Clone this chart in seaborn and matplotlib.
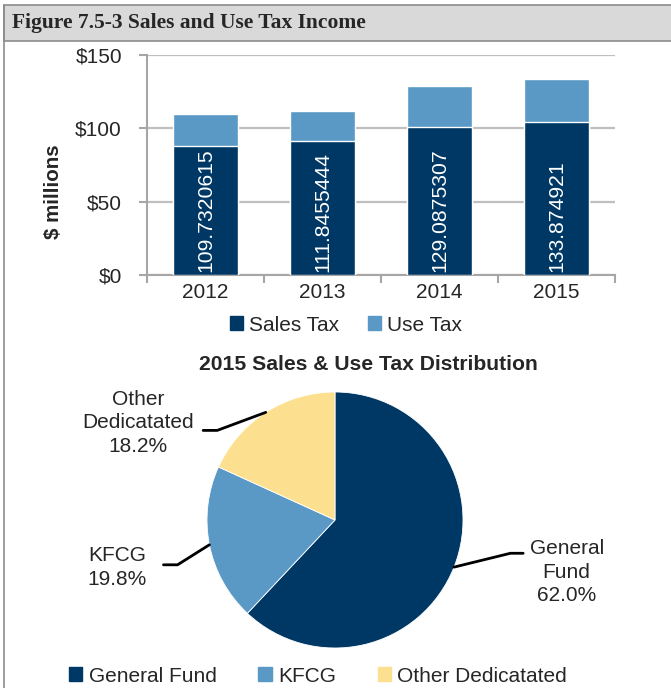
import numpy as np
import pandas as pd
import matplotlib
matplotlib.use("Agg")
import matplotlib.pyplot as plt
from matplotlib.patches import Rectangle, Patch
from matplotlib.lines import Line2D
import seaborn as sns

# ---- data ----
years = ["2012", "2013", "2014", "2015"]
sales_tax = [88.0, 91.7, 101.0, 104.6]
total_tax = [109.7320615, 111.8455444, 129.0875307, 133.874921]
total_labels = ["109.7320615", "111.8455444", "129.0875307", "133.874921"]
y_ticks = [0, 50, 100, 150]
y_tick_labels = ["$0", "$50", "$100", "$150"]

pie_labels = ["General Fund", "KFCG", "Other Dedicatated"]
pie_text = ["General\nFund", "KFCG", "Other\nDedicatated"]
pie_shares = [62.0, 19.8, 18.2]

NAVY = "#003865"
BLUE = "#5a98c5"
YELLOW = "#fde08f"
GRID = "#bfbfbf"
FS = 15

sns.set_theme(style="white")
plt.rcParams["font.family"] = ["Liberation Sans", "DejaVu Sans"]

W, H = 671, 688
fig = plt.figure(figsize=(W / 100, H / 100), dpi=100)


def fx(px):
    return px / W


def fy(py):
    return 1 - py / H


# ---- frame / title band ----
fig.patches.append(Rectangle((fx(4), fy(41)), 1, fy(5) - fy(41), transform=fig.transFigure,
                             facecolor="#d9d9d9", edgecolor="#8c8c8c", linewidth=1.2))
fig.add_artist(Line2D([fx(4), fx(4)], [0, fy(5)], color="#8c8c8c", linewidth=1.2))
fig.text(fx(12), fy(23), "Figure 7.5-3 Sales and Use Tax Income", family="Liberation Serif",
         fontweight="bold", fontsize=15.5, va="center", ha="left")

# ---- stacked bars ----
ax = fig.add_axes([fx(147), fy(275), fx(615) - fx(147), fy(55) - fy(275)])
df = pd.DataFrame({"year": years, "sales": sales_tax, "total": total_tax})
sns.barplot(data=df, x="year", y="total", color=BLUE, saturation=1, width=0.56, ax=ax, zorder=3)
sns.barplot(data=df, x="year", y="sales", color=NAVY, saturation=1, width=0.56, ax=ax, zorder=3)
for i, lab in enumerate(total_labels):
    ax.text(i, 2, lab, rotation=90, ha="center", va="bottom", color="white", fontsize=15.2, zorder=4)

ax.set_xlim(-0.5, 3.5)
ax.set_ylim(0, 150)
ax.set_yticks(y_ticks)
ax.set_yticklabels(y_tick_labels, fontsize=FS)
ax.set_xticklabels(years, fontsize=FS)
ax.set_xlabel("")
ax.set_ylabel("$ millions", fontsize=14.8, fontweight="bold")
ax.yaxis.set_label_coords(-0.18, 0.38)
ax.yaxis.grid(True, color=GRID, linewidth=1.6, zorder=0)
ax.set_axisbelow(True)
for s in ["top", "right"]:
    ax.spines[s].set_visible(False)
for s in ["left", "bottom"]:
    ax.spines[s].set_color("#a6a6a6")
    ax.spines[s].set_linewidth(1.5)
ax.set_xticks(np.arange(-0.5, 4, 1), minor=True)
ax.tick_params(axis="x", which="major", length=0, pad=6)
ax.tick_params(axis="x", which="minor", length=6, width=1.5, color="#a6a6a6", direction="out", bottom=True)
ax.tick_params(axis="y", length=6, width=1.5, color="#a6a6a6", direction="out", left=True, pad=12)

fig.legend(handles=[Patch(color=NAVY, label="Sales Tax"), Patch(color=BLUE, label="Use Tax")],
           loc="center", bbox_to_anchor=(fx(346), fy(325)), ncol=2, frameon=False, fontsize=FS,
           handlelength=0.65, handleheight=0.65, handletextpad=0.3, columnspacing=1.35)

# ---- pie ----
fig.text(fx(368), fy(364), "2015 Sales & Use Tax Distribution", ha="center", va="center",
         fontsize=15.2, fontweight="bold")
R = 128
pax = fig.add_axes([fx(335 - R), fy(520 + R), fx(2 * R), fy(0) - fy(2 * R)])
wedges, _ = pax.pie(pie_shares, colors=[NAVY, BLUE, YELLOW], startangle=90, counterclock=False,
                    wedgeprops=dict(linewidth=0.6, edgecolor="white"))
pax.set_xlim(-1, 1)
pax.set_ylim(-1, 1)
pax.set_aspect("equal")
pax.axis("off")

# label layout: elbow point, end of horizontal run, text centre (data units of the pie)
elbows = [(1.37, -0.26), (-1.23, -0.35), (-0.92, 0.70)]
ends = [(1.47, -0.26), (-1.34, -0.35), (-1.03, 0.70)]
text_pos = [(1.81, -0.41), (-1.70, -0.37), (-1.54, 0.76)]
for w, name, share, el, en, tp in zip(wedges, pie_text, pie_shares, elbows, ends, text_pos):
    ang = np.deg2rad((w.theta1 + w.theta2) / 2)
    x0, y0 = np.cos(ang), np.sin(ang)
    pax.plot([x0, el[0], en[0]], [y0, el[1], en[1]], color="black", linewidth=2, clip_on=False)
    pax.text(tp[0], tp[1], f"{name}\n{share:.1f}%", ha="center", va="center", fontsize=FS,
             linespacing=1.3, clip_on=False)

fig.legend(handles=[Patch(color=c, label=l) for c, l in zip([NAVY, BLUE, YELLOW], pie_labels)],
           loc="center", bbox_to_anchor=(fx(318), fy(676)), ncol=3, frameon=False, fontsize=FS,
           handlelength=0.65, handleheight=0.65, handletextpad=0.3, columnspacing=2.0)

fig.savefig("out.png", dpi=100)
